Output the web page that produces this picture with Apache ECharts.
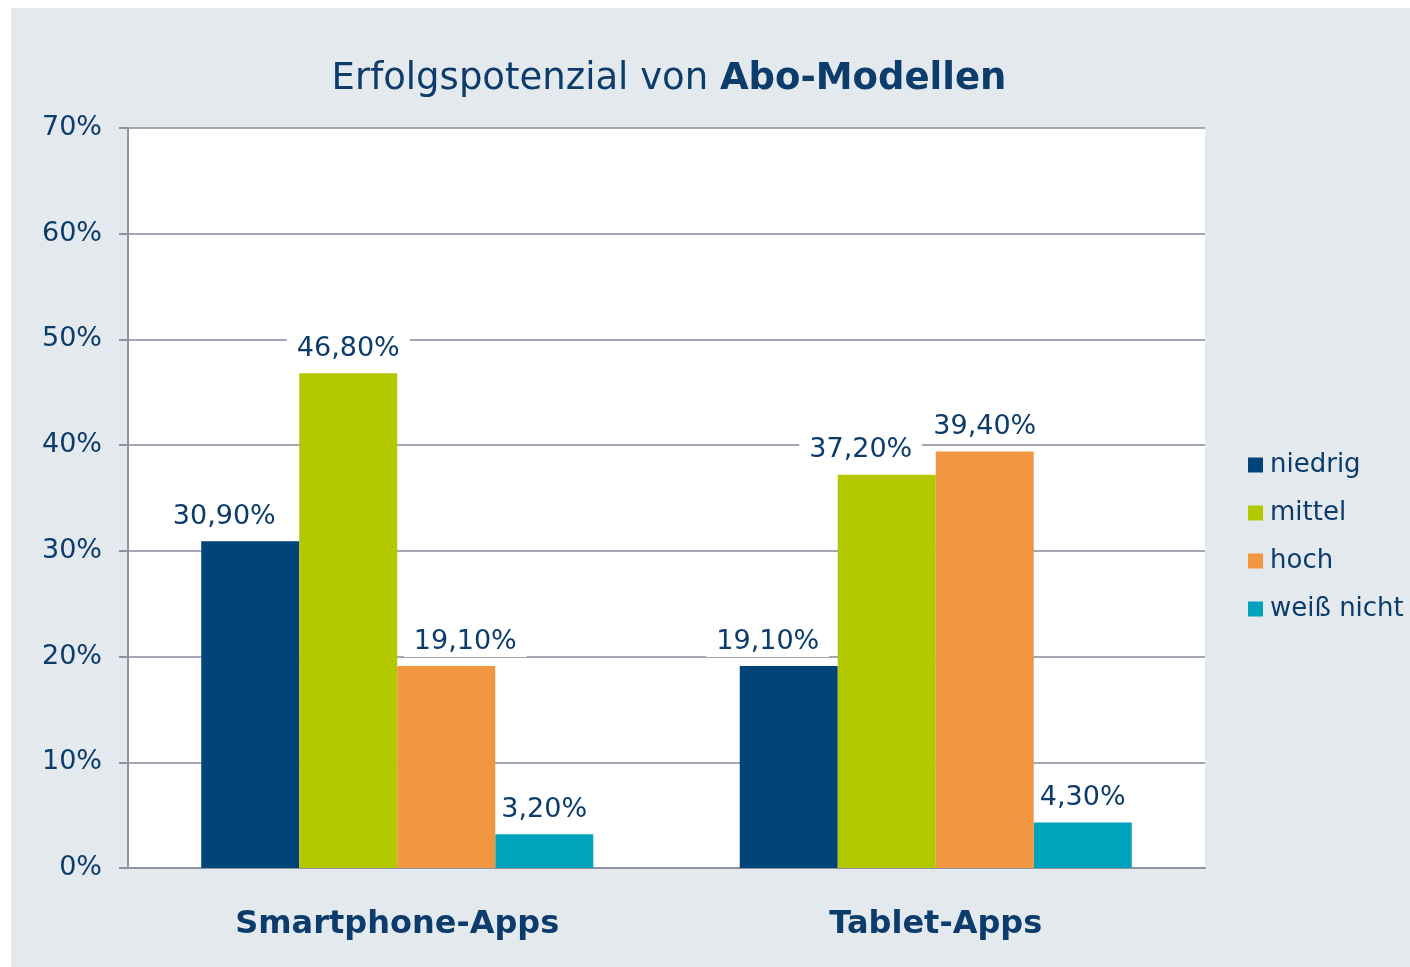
<!DOCTYPE html>
<html>
<head>
<meta charset="utf-8">
<script src="https://cdn.jsdelivr.net/npm/echarts@6/dist/echarts.min.js"></script>
<style>
  html, body { margin: 0; padding: 0; background: #fff; }
  #chart { position: absolute; left: 11px; top: 8px; width: 1399px; height: 959px; }
</style>
</head>
<body>
<div id="chart"></div>
<script>
var categories = ['Smartphone-Apps', 'Tablet-Apps'];
var niedrig = [30.9, 19.1];
var mittel = [46.8, 37.2];
var hoch = [19.1, 39.4];
var weissNicht = [3.2, 4.3];
var yTicks = [0, 10, 20, 30, 40, 50, 60, 70];

var textColor = '#0b3c6b';
var fontFamily = 'DejaVu Sans, Verdana, sans-serif';

// horizontal nudges of the value labels (Excel moved some aside)
var labelShift = {
    'niedrig': [-26, -21],
    'mittel': [0, -26],
    'hoch': [19, 0],
    'weiß nicht': [0, 0]
};

var chartDom = document.getElementById('chart');
var myChart = echarts.init(chartDom);

function fmt(v) {
    return v.toFixed(2).replace('.', ',') + '%';
}

function barSeries(name, data, color, z) {
    return {
        name: name,
        type: 'bar',
        z: z,
        data: data.map(function (v, i) {
            return { value: v, label: { offset: [labelShift[name][i], 0] } };
        }),
        barWidth: 98,
        barGap: '0%',
        itemStyle: { color: color },
        label: {
            show: true,
            position: 'top',
            distance: 9,
            color: textColor,
            fontFamily: fontFamily,
            fontSize: 27,
            backgroundColor: '#fff',
            padding: [4, 10, 2, 10],
            formatter: function (p) { return fmt(p.value); }
        }
    };
}

var option = {
    backgroundColor: '#e4e9ee',
    textStyle: { fontFamily: fontFamily },
    title: {
        text: '{n|Erfolgspotenzial von }{b|Abo-Modellen}',
        left: 653,
        textAlign: 'center',
        top: 48,
        textStyle: {
            fontWeight: 'normal',
            rich: {
                n: { fontSize: 37, color: textColor, fontWeight: 'normal', fontFamily: fontFamily },
                b: { fontSize: 37, color: textColor, fontWeight: 'bold', fontFamily: fontFamily }
            }
        }
    },
    legend: {
        orient: 'vertical',
        left: 1232,
        top: 439,
        itemWidth: 15,
        itemHeight: 15,
        itemGap: 22,
        icon: 'rect',
        textStyle: { color: textColor, fontSize: 26, fontFamily: fontFamily, padding: [0, 0, 0, 2] },
        data: ['niedrig', 'mittel', 'hoch', 'weiß nicht']
    },
    grid: {
        left: 117,
        top: 120,
        right: 205,
        bottom: 99,
        show: true,
        backgroundColor: '#fff',
        borderWidth: 0
    },
    xAxis: {
        type: 'category',
        data: categories,
        axisLine: { lineStyle: { color: '#8e93a4', width: 2 } },
        axisTick: { show: false },
        axisLabel: {
            margin: 41,
            color: textColor,
            fontSize: 32,
            fontWeight: 'bold',
            fontFamily: fontFamily
        }
    },
    yAxis: {
        type: 'value',
        min: yTicks[0],
        max: yTicks[yTicks.length - 1],
        interval: 10,
        axisLine: { show: true, lineStyle: { color: '#8e93a4', width: 2 } },
        axisTick: { show: true, length: 9, lineStyle: { color: '#8e93a4', width: 2 } },
        splitLine: { lineStyle: { color: '#a3a7b5', width: 2 } },
        axisLabel: {
            margin: 26,
            color: textColor,
            fontSize: 27,
            fontFamily: fontFamily,
            formatter: function (v) { return v + '%'; }
        }
    },
    series: [
        barSeries('niedrig', niedrig, '#00447a', 2),
        barSeries('mittel', mittel, '#b4c800', 3),
        barSeries('hoch', hoch, '#f29741', 4),
        barSeries('weiß nicht', weissNicht, '#00a3bb', 2)
    ]
};

option && myChart.setOption(option);
</script>
</body>
</html>
